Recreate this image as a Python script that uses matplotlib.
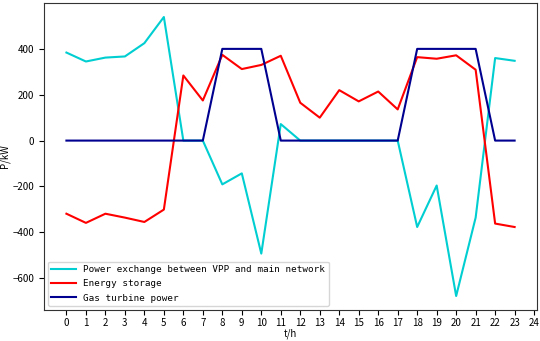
import matplotlib
matplotlib.use("Agg")
import matplotlib.pyplot as plt

# hourly values
hours = list(range(24))
grid_exchange = [384, 345, 362, 367, 425, 539, 0, 0, -191, -143, -493, 72,
                 0, 0, 0, 0, 0, 0, -377, -196, -678, -336, 360, 348]
storage = [-319, -359, -319, -336, -355, -301, 284, 175, 374, 312, 330, 370,
           165, 100, 220, 171, 214, 136, 364, 357, 372, 309, -362, -377]
gas_turbine = [0, 0, 0, 0, 0, 0, 0, 0, 400, 400, 400, 0,
               0, 0, 0, 0, 0, 0, 400, 400, 400, 400, 0, 0]
xticks = list(range(25))

plt.rcParams['font.family'] = ['Noto Sans CJK SC', 'DejaVu Sans']
plt.rcParams['font.size'] = 7

fig = plt.figure(figsize=(5.4, 3.41), dpi=100)
ax = fig.add_axes([0.0815, 0.091, 0.913, 0.9])

ax.plot(hours, grid_exchange, color='#00CED1', lw=1.5,
        label='Power exchange between VPP and main network')
ax.plot(hours, storage, color='red', lw=1.5, label='Energy storage')
ax.plot(hours, gas_turbine, color='#000090', lw=1.5, label='Gas turbine power')

ax.set_xticks(xticks)
ax.set_yticks([-600, -400, -200, 0, 200, 400])
ax.tick_params(axis='x', pad=2.5)
ax.set_xlabel('t/h', labelpad=0)
ax.set_ylabel('P/kW', labelpad=2)
for s in ax.spines.values():
    s.set_color('#333333')

ax.legend(loc='lower left', prop={'family': 'DejaVu Sans Mono', 'size': 6.7},
          handlelength=2.6, labelspacing=0.55, borderaxespad=0.4)

fig.savefig('out.png', dpi=100)
